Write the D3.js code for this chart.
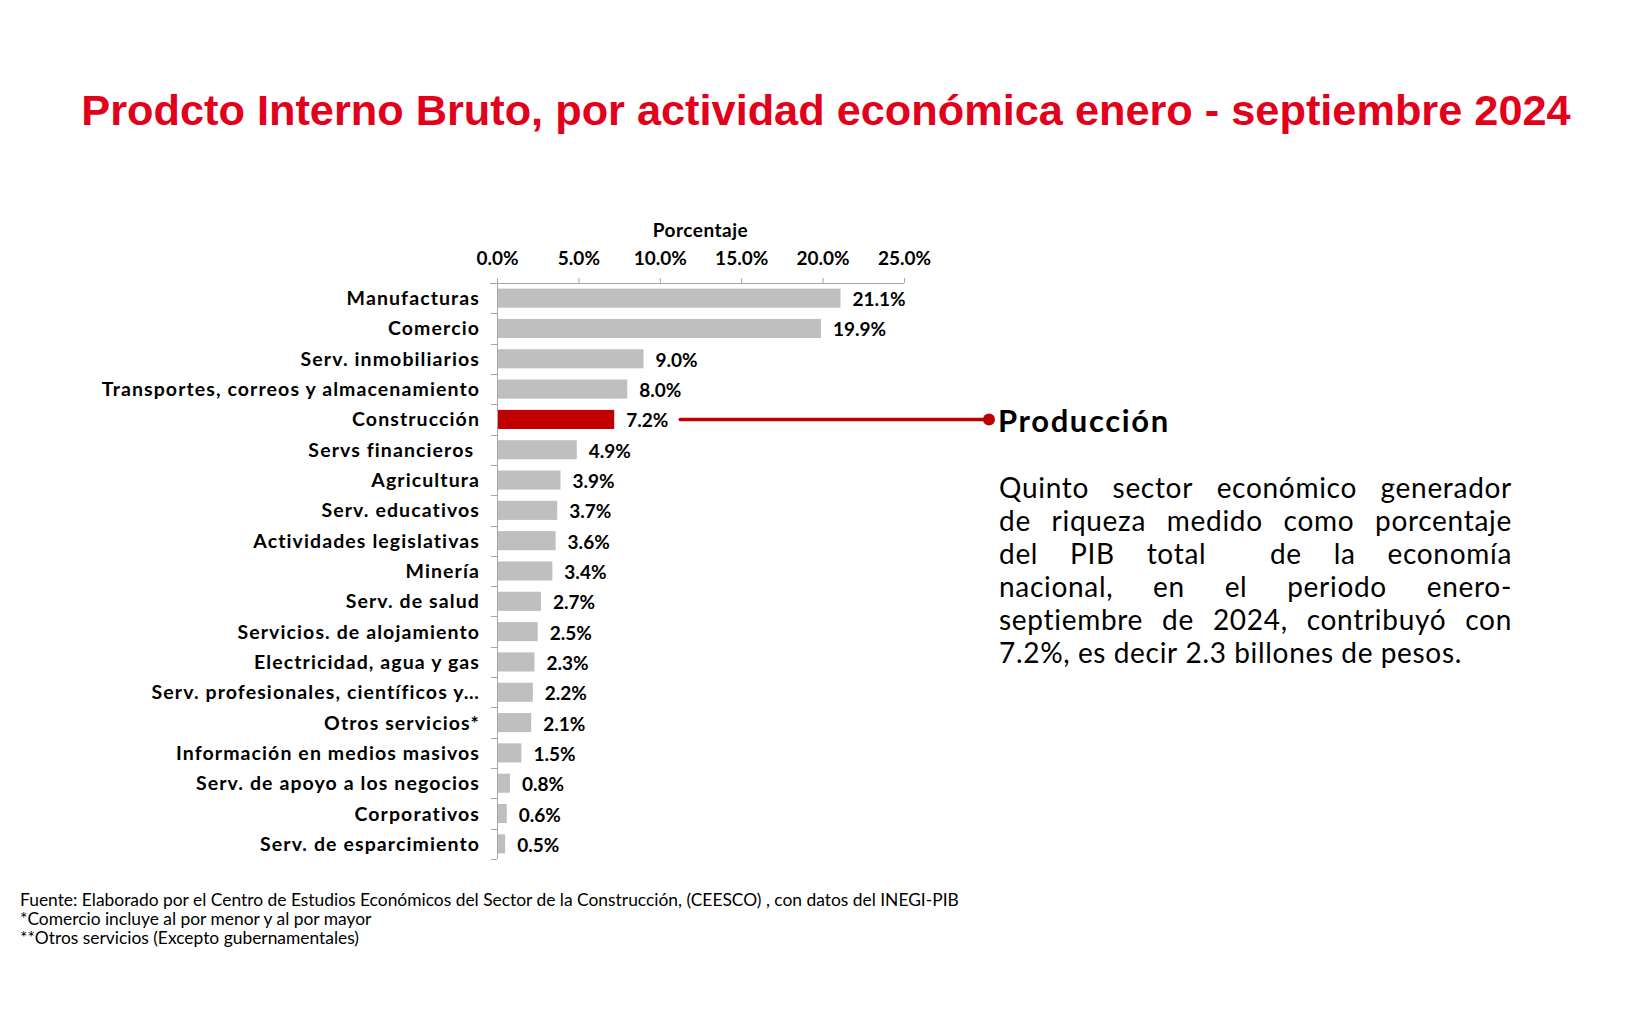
<!DOCTYPE html>
<html>
<head>
<meta charset="utf-8">
<script src="https://cdn.jsdelivr.net/npm/d3@7"></script>
<style>
  body { margin: 0; background: #fff; }
  svg { display: block; }
</style>
</head>
<body>
<div id="chart"></div>
<script>
// categories and values (percentage of GDP, Jan-Sep 2024)
let categories = ["Manufacturas", "Comercio", "Serv. inmobiliarios",
  "Transportes, correos y almacenamiento", "Construcción", "Servs financieros ",
  "Agricultura", "Serv. educativos", "Actividades legislativas", "Minería",
  "Serv. de salud", "Servicios. de alojamiento", "Electricidad, agua y gas",
  "Serv. profesionales, científicos y…", "Otros servicios*",
  "Información en medios masivos", "Serv. de apoyo a los negocios",
  "Corporativos", "Serv. de esparcimiento"];
let values = [21.1, 19.9, 9.0, 8.0, 7.2, 4.9, 3.9, 3.7, 3.6, 3.4, 2.7, 2.5, 2.3, 2.2, 2.1, 1.5, 0.8, 0.6, 0.5];
let xTicks = [0, 5, 10, 15, 20, 25];
let highlight = "Construcción";

let titleText = "Prodcto Interno Bruto, por actividad económica enero - septiembre 2024";
let noteTitle = "Producción";
let noteLines = ["Quinto sector económico generador",
  "de riqueza medido como porcentaje",
  "del PIB total  de la economía",
  "nacional, en el periodo enero-",
  "septiembre de 2024, contribuyó con",
  "7.2%, es decir 2.3 billones de pesos."];
let footnotes = ["Fuente: Elaborado por el Centro de Estudios Económicos del Sector de la Construcción, (CEESCO) , con datos del INEGI-PIB",
  "*Comercio incluye al por menor y al por mayor",
  "**Otros servicios (Excepto gubernamentales)"];

function drawChart() {
  let W = 1650, H = 1036;
  let svg = d3.select("#chart").append("svg")
    .attr("width", W).attr("height", H);

  let font = "Lato, 'Open Sans', sans-serif";
  let axisColor = "#a6a6a6";

  // title
  svg.append("text")
    .attr("x", 826).attr("y", 125)
    .attr("text-anchor", "middle")
    .attr("font-family", "'Liberation Sans', Arial, sans-serif")
    .attr("font-weight", "bold")
    .attr("font-size", 43.3)
    .style("fill", "#e3001b")
    .text(titleText);

  // scales
  let x = d3.scaleLinear().domain([0, 25]).range([497, 904]);
  let y = d3.scaleBand().domain(categories).range([283, 859]).paddingInner(0.37).paddingOuter(0.185);
  let step = y.step();

  // top axis
  let gx = svg.append("g")
    .attr("transform", "translate(0,283)")
    .call(d3.axisTop(x).tickValues(xTicks).tickSize(5).tickSizeOuter(0)
      .tickFormat(d => d3.format(".1f")(d) + "%"));
  gx.select(".domain").attr("stroke", axisColor).attr("d", "M490,0.5H904");
  gx.selectAll(".tick line").attr("stroke", axisColor);
  gx.selectAll(".tick text")
    .attr("font-family", font).attr("font-weight", "bold").attr("font-size", 19)
    .attr("fill", "#000").attr("y", -18).attr("dy", 0);

  svg.append("text")
    .attr("x", (x(0) + x(25)) / 2).attr("y", 237)
    .attr("text-anchor", "middle")
    .attr("font-family", font).attr("font-weight", "bold").attr("font-size", 19)
    .style("letter-spacing", "0.5px")
    .text("Porcentaje");

  // left axis line with ticks on category boundaries
  svg.append("line")
    .attr("x1", x(0) + 0.5).attr("x2", x(0) + 0.5)
    .attr("y1", 283).attr("y2", 859)
    .attr("stroke", axisColor);
  let bounds = categories.map(c => y(c) - y.paddingOuter() * step).concat([859]);
  svg.append("g").selectAll("line")
    .data(bounds).enter().append("line")
    .attr("x1", x(0) - 6).attr("x2", x(0))
    .attr("y1", d => Math.round(d) + 0.5).attr("y2", d => Math.round(d) + 0.5)
    .attr("stroke", axisColor);

  // bars
  svg.append("g").selectAll("rect")
    .data(categories).enter().append("rect")
    .attr("x", x(0) + 1)
    .attr("y", d => y(d))
    .attr("width", (d, i) => x(values[i]) - x(0) - 1)
    .attr("height", y.bandwidth())
    .style("fill", d => d === highlight ? "#c00000" : "#bfbfbf");

  // category labels
  svg.append("g").selectAll("text")
    .data(categories).enter().append("text")
    .attr("x", 480)
    .attr("y", d => y(d) + y.bandwidth() / 2)
    .attr("dy", "0.36em")
    .attr("text-anchor", "end")
    .style("white-space", "pre")
    .style("letter-spacing", "1.1px")
    .attr("font-family", font).attr("font-weight", "bold").attr("font-size", 19.5)
    .text(d => d);

  // value labels
  svg.append("g").selectAll("text")
    .data(categories).enter().append("text")
    .attr("x", (d, i) => x(values[i]) + 12)
    .attr("y", d => y(d) + y.bandwidth() / 2)
    .attr("dy", "0.42em")
    .attr("font-family", font).attr("font-weight", "bold").attr("font-size", 19)
    .text((d, i) => d3.format(".1f")(values[i]) + "%");

  // connector to the note
  let hy = y(highlight) + y.bandwidth() / 2;
  let hv = values[categories.indexOf(highlight)];
  svg.append("line")
    .attr("x1", x(hv) + 66).attr("x2", 989)
    .attr("y1", hy).attr("y2", hy)
    .attr("stroke", "#c00000").attr("stroke-width", 3.5)
    .attr("stroke-linecap", "round");
  svg.append("circle")
    .attr("cx", 989).attr("cy", hy).attr("r", 6)
    .style("fill", "#c00000");

  // note
  svg.append("text")
    .attr("x", 998).attr("y", 432)
    .attr("font-family", font).attr("font-weight", "bold").attr("font-size", 31)
    .style("letter-spacing", "1.6px")
    .text(noteTitle);

  let left = 999, right = 1512, lh = 33, base = 498;
  noteLines.forEach(function(line, li) {
    let words = line.split(" ");
    let g = svg.append("g");
    let nodes = words.map(w => g.append("text")
      .attr("y", base + li * lh)
      .attr("font-family", font).attr("font-size", 28)
      .style("letter-spacing", "0.7px")
      .text(w));
    let widths = nodes.map(n => n.node().getComputedTextLength());
    let total = d3.sum(widths);
    let gap = (li === noteLines.length - 1) ? 7.5 : (right - left - total) / (words.length - 1);
    let cx = left;
    nodes.forEach(function(n, i) {
      n.attr("x", cx);
      cx += widths[i] + gap;
    });
  });

  // footnotes
  svg.append("g").selectAll("text")
    .data(footnotes).enter().append("text")
    .attr("x", 20)
    .attr("y", (d, i) => 906 + i * 19)
    .attr("font-family", font).attr("font-size", 17.4)
    .text(d => d);
}

drawChart();
</script>
</body>
</html>
